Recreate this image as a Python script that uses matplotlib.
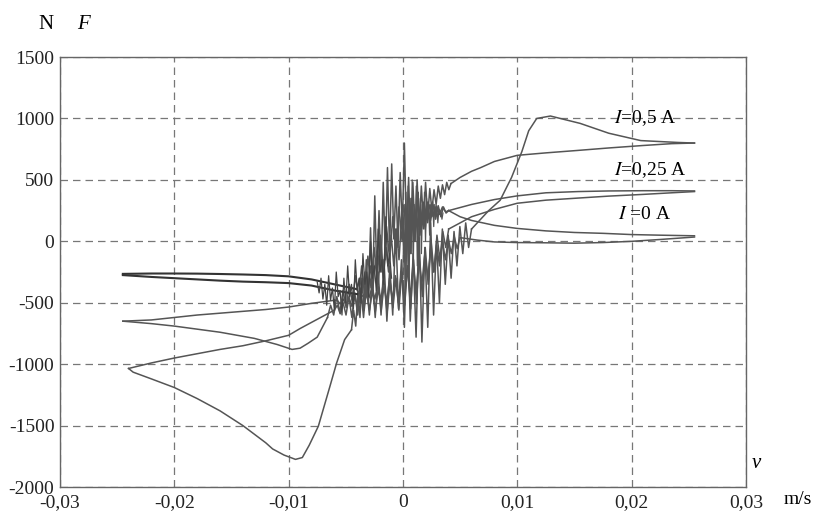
import numpy as np
import matplotlib.pyplot as plt

plt.rcParams['font.family'] = ['Liberation Serif', 'DejaVu Serif']
plt.rcParams['mathtext.fontset'] = 'stix'

# ---- I = 0,5 A ----
v05_left_up = [-0.006, -0.007, -0.008, -0.009, -0.010, -0.012, -0.014, -0.016, -0.018, -0.020, -0.022, -0.024]
f05_left_up = [-560, -610, -660, -710, -765, -810, -850, -880, -915, -950, -990, -1035]
v05_left_low = [-0.024, -0.0236, -0.022, -0.020, -0.018, -0.016, -0.014, -0.012, -0.0114, -0.0104, -0.0094,
                -0.0088, -0.0082, -0.0074, -0.0064, -0.0058, -0.0051, -0.0045]
f05_left_low = [-1035, -1065, -1120, -1190, -1280, -1380, -1500, -1640, -1690, -1740, -1775,
                -1760, -1660, -1505, -1185, -990, -800, -720]
f05_mid_up = [-720, -560, -690, -420, -620, -300, -560, -150, -480, 110, -420, 370, -300, 250, -250, 480,
              -150, 600, -80, 630, 20, 450, -50, 560, 100, 800, 50, 520, -100, 480, 50, 500, 100, 450,
              150, 480, 200, 430, 250, 420, 300, 450, 350, 460, 380, 480, 420, 470]
v05_right_low = [0.0042, 0.005, 0.006, 0.0068, 0.008, 0.010, 0.0125, 0.0153, 0.018, 0.021, 0.0235, 0.0255]
f05_right_low = [470, 520, 570, 600, 650, 700, 720, 740, 760, 780, 795, 800]
v05_right_up = [0.0255, 0.024, 0.0208, 0.018, 0.0155, 0.0129, 0.0117, 0.011, 0.0104, 0.0095, 0.0085,
                0.0075, 0.0068, 0.006]
f05_right_up = [800, 805, 820, 880, 960, 1020, 1000, 900, 730, 520, 334, 250, 180, 100]
f05_mid_down = [100, -50, 150, -100, 120, -200, 80, -300, 50, -350, 100, -500, 0, -600, 150, -700,
                -50, -820, 100, -780, -100, -650, 200, -700, -150, -550, 100, -600, -200, -650, -150,
                -600, -250, -620, -300, -600, -350, -620, -380, -600, -420, -620, -450, -600, -500,
                -590, -520, -560]

# ---- I = 0,25 A ----
v025_left_up = [-0.006, -0.008, -0.010, -0.012, -0.014, -0.016, -0.018, -0.020, -0.022, -0.0245]
f025_left_up = [-480, -505, -535, -555, -570, -585, -600, -620, -640, -650]
v025_left_low = [-0.0245, -0.022, -0.020, -0.018, -0.016, -0.013, -0.011, -0.0097, -0.009, -0.0083,
                 -0.0075, -0.0066]
f025_left_low = [-650, -670, -690, -715, -740, -790, -840, -880, -870, -830, -780, -620]
f025_mid_up = [-620, -520, -600, -450, -580, -400, -540, -350, -500, -280, -460, -200, -420, -120,
               -380, -50, -300, 50, -250, 120, -150, 200, -100, 280, 0, 300, 50, 350, 100, 330, 150,
               320, 180, 300, 200, 290, 220, 280, 240, 250]
v025_right_up = [0.004, 0.006, 0.008, 0.010, 0.0125, 0.0153, 0.018, 0.021, 0.0235, 0.0255]
f025_right_up = [250, 300, 340, 370, 395, 405, 410, 412, 412, 410]
v025_right_low = [0.0255, 0.0235, 0.021, 0.018, 0.0153, 0.0125, 0.010, 0.008, 0.006, 0.004]
f025_right_low = [405, 395, 382, 368, 352, 335, 310, 260, 200, 100]
f025_mid_down = [100, -50, 80, -150, 50, -250, 0, -350, -50, -450, -100, -500, -150, -550, -200,
                 -520, -250, -560, -300, -540, -320, -580, -350, -560, -380, -570, -400, -560, -420,
                 -550, -430, -540, -450, -530, -460, -520, -470, -510, -480, -480]

# ---- I = 0 A ----
v0_left_up = [-0.004, -0.006, -0.008, -0.010, -0.012, -0.014, -0.016, -0.018, -0.020, -0.022, -0.0245]
f0_left_up = [-390, -350, -310, -285, -275, -270, -266, -263, -262, -262, -265]
v0_left_low = [-0.0245, -0.022, -0.020, -0.018, -0.016, -0.014, -0.012, -0.010, -0.008, -0.006, -0.004]
f0_left_low = [-275, -290, -300, -310, -320, -328, -333, -340, -360, -400, -430]
f0_mid_up = [-390, -300, -420, -250, -400, -200, -380, -150, -350, -100, -300, -50, -250, 50, -200,
             100, -150, 200, -100, 250, -50, 300, 0, 350, 50, 300, 100, 320, 150, 300, 180, 290,
             200, 280, 230, 250]
v0_right_up = [0.004, 0.005, 0.006, 0.008, 0.010, 0.0125, 0.015, 0.0175, 0.020, 0.0225, 0.0255]
f0_right_up = [250, 200, 170, 130, 105, 85, 72, 65, 55, 50, 45]
v0_right_low = [0.0255, 0.0225, 0.020, 0.0175, 0.015, 0.0125, 0.010, 0.008, 0.0065, 0.005]
f0_right_low = [35, 15, 0, -10, -15, -12, -10, -5, 10, 30]
f0_mid_down = [30, -60, 40, -100, 20, -150, 0, -200, -30, -250, -60, -300, -100, -350, -150, -400,
               -180, -450, -200, -480, -250, -500, -280, -480, -300, -500, -320, -480, -350, -470,
               -380, -460, -400, -450, -420, -430]

# dense noisy blob in the middle
f_blob_left = [-330, -420, -300, -470, -350, -520, -280, -480, -380, -560, -250, -450, -400, -600,
               -300, -500, -200, -450, -350, -550, -150, -400, -300, -500, -100, -350, -250, -450,
               0, -300, -200, -400, 100, -250, -150, -350, 200, -200, -100, -300]
f_blob_right = [-300, 300, -400, 400, -200, 450, -350, 350, -100, 500, -250, 300, 0, 450, -200, 400,
                50, 350, -100, 300, 100, 400, 0, 350, 150, 300, 50, 280, 200, 320, 120, 300, 200,
                280, 150, 260, 220, 250, 180, 230]

# sample grids of the noisy middle parts
v05_mid_up = np.linspace(-0.0045, 0.0042, len(f05_mid_up))
v05_mid_down = np.linspace(0.006, -0.006, len(f05_mid_down))
v025_mid_up = np.linspace(-0.0066, 0.004, len(f025_mid_up))
v025_mid_down = np.linspace(0.004, -0.006, len(f025_mid_down))
v0_mid_up = np.linspace(-0.004, 0.004, len(f0_mid_up))
v0_mid_down = np.linspace(0.005, -0.004, len(f0_mid_down))
v_blob_left = np.linspace(-0.0075, -0.001, len(f_blob_left))
v_blob_right = np.linspace(0.0, 0.0035, len(f_blob_right))

fig = plt.figure(figsize=(8.17, 5.14), dpi=100)
ax = fig.add_axes([0.0734, 0.0525, 0.8396, 0.8365])

lc = '#555555'
segs = [
    (v05_left_up, f05_left_up), (v05_left_low, f05_left_low), (v05_mid_up, f05_mid_up),
    (v05_right_low, f05_right_low), (v05_right_up, f05_right_up), (v05_mid_down, f05_mid_down),
    (v025_left_up, f025_left_up), (v025_left_low, f025_left_low), (v025_mid_up, f025_mid_up),
    (v025_right_up, f025_right_up), (v025_right_low, f025_right_low), (v025_mid_down, f025_mid_down),
    (v0_mid_up, f0_mid_up), (v0_right_up, f0_right_up), (v0_right_low, f0_right_low),
    (v0_mid_down, f0_mid_down),
]
for v, f in segs:
    ax.plot(v, f, color=lc, lw=1.1)
# the I = 0 A branches on the left look darker
ax.plot(v0_left_up, f0_left_up, color='#333333', lw=1.5)
ax.plot(v0_left_low, f0_left_low, color='#333333', lw=1.5)
ax.plot(v_blob_left, f_blob_left, color='#444444', lw=0.9)
ax.plot(v_blob_right, f_blob_right, color='#555555', lw=0.9)

ax.set_xlim(-0.03, 0.03)
ax.set_ylim(-2000, 1500)
xt = [-0.03, -0.02, -0.01, 0, 0.01, 0.02, 0.03]
xt_labels = ['-0,03', '-0,02', '-0,01', '0', '0,01', '0,02', '0,03']
yt = [-2000, -1500, -1000, -500, 0, 500, 1000, 1500]
ax.set_xticks(xt)
ax.set_xticklabels(xt_labels)
ax.set_yticks(yt)
ax.set_yticklabels([str(t) for t in yt])
ax.tick_params(length=0, labelsize=14, colors='#222222')
ax.tick_params(axis='x', pad=5)
ax.tick_params(axis='y', pad=4)
ax.grid(True, color='#777777', lw=0.9, ls=(0, (6, 4)))
for s in ax.spines.values():
    s.set_color('#666666')
    s.set_linewidth(1.0)

fig.text(38 / 817, 1 - 24 / 514, 'N', fontsize=15, va='center')
fig.text(77 / 817, 1 - 24 / 514, 'F', fontsize=15, style='italic', va='center')
fig.text(752 / 817, 1 - 463 / 514, 'v', fontsize=15, style='italic', va='center')
fig.text(784 / 817, 1 - 500 / 514, 'm/s', fontsize=14, va='center')

ax.text(0.0185, 1000, r'$I$=0,5 A', fontsize=14, va='center', ha='left')
ax.text(0.0185, 580, r'$I$=0,25 A', fontsize=14, va='center', ha='left')
ax.text(0.0188, 215, r'$I$ =0 A', fontsize=14, va='center', ha='left')

fig.savefig('out.png', dpi=100)
